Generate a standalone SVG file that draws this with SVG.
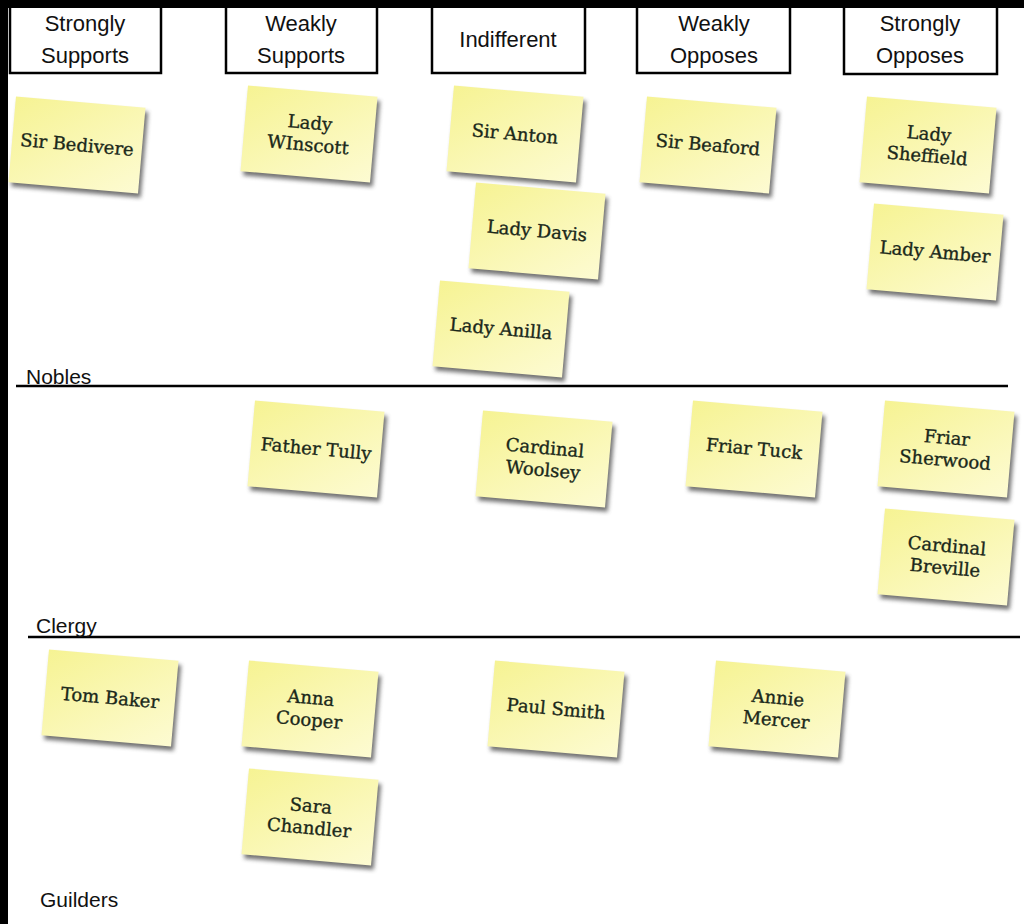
<svg xmlns="http://www.w3.org/2000/svg" width="1024" height="924" viewBox="0 0 1024 924">
<style>
.hdr{fill:#fff;stroke:#000;stroke-width:2.5}
.htxt{font-family:"Liberation Sans",Arial,sans-serif;font-size:22px;fill:#111;text-anchor:middle}
.lane{stroke:#000;stroke-width:2.5}
.ltxt{font-family:"Liberation Sans",Arial,sans-serif;font-size:21px;fill:#111}
.note{fill:url(#ng)}
.shadow{fill:#444;opacity:0.75;filter:url(#blur)}
.ntxt{font-family:"DejaVu Serif","Liberation Serif",serif;font-size:18px;fill:#1a281a;stroke:#1a281a;stroke-width:0.35;text-anchor:middle}
</style>
<defs>
<linearGradient id="ng" x1="0" y1="0" x2="1" y2="1">
<stop offset="0" stop-color="#f6f393"/>
<stop offset="1" stop-color="#fdfbd2"/>
</linearGradient>
<filter id="blur" x="-20%" y="-20%" width="140%" height="140%"><feGaussianBlur stdDeviation="2"/></filter>
<symbol id="stk" overflow="visible">
<rect class="shadow" x="-62" y="-39" width="130" height="86"/>
<rect class="note" x="-65" y="-43" width="130" height="86"/>
</symbol>
</defs>
<rect x="0" y="0" width="1024" height="924" fill="#fff"/>
<rect x="0" y="0" width="1024" height="8" fill="#000"/>
<rect x="0" y="0" width="8" height="924" fill="#000"/>

<g id="headers">
<g id="h-strongly-supports"><path class="hdr" d="M10,8 V73 H161 V8"/><text class="htxt" x="85" y="31">Strongly</text><text class="htxt" x="85" y="63">Supports</text></g>
<g id="h-weakly-supports"><path class="hdr" d="M226,8 V73 H377 V8"/><text class="htxt" x="301" y="31">Weakly</text><text class="htxt" x="301" y="63">Supports</text></g>
<g id="h-indifferent"><path class="hdr" d="M432,8 V73 H585 V8"/><text class="htxt" x="508" y="47">Indifferent</text></g>
<g id="h-weakly-opposes"><path class="hdr" d="M637,8 V73 H790 V8"/><text class="htxt" x="714" y="31">Weakly</text><text class="htxt" x="714" y="63">Opposes</text></g>
<g id="h-strongly-opposes"><path class="hdr" d="M844,8 V74 H997 V8"/><text class="htxt" x="920" y="31">Strongly</text><text class="htxt" x="920" y="63">Opposes</text></g>
</g>

<g id="lanes">
<g id="lane-nobles"><line class="lane" x1="16" y1="386" x2="1008" y2="386"/><text class="ltxt" x="26" y="384">Nobles</text></g>
<g id="lane-clergy"><line class="lane" x1="28" y1="637" x2="1020" y2="637"/><text class="ltxt" x="36" y="633">Clergy</text></g>
<g id="lane-guilders"><text class="ltxt" x="40" y="907">Guilders</text></g>
</g>

<g id="connectors"></g>

<g id="n-sir-bedivere" transform="translate(77,145) rotate(5)"><use href="#stk"/><text class="ntxt" y="6">Sir Bedivere</text></g>
<g id="n-lady-winscott" transform="translate(309,134) rotate(5)"><use href="#stk"/><text class="ntxt" y="-5">Lady</text><text class="ntxt" y="17">WInscott</text></g>
<g id="n-sir-anton" transform="translate(515,134) rotate(5)"><use href="#stk"/><text class="ntxt" y="6">Sir Anton</text></g>
<g id="n-lady-davis" transform="translate(537,231) rotate(5)"><use href="#stk"/><text class="ntxt" y="6">Lady Davis</text></g>
<g id="n-lady-anilla" transform="translate(501,329) rotate(5)"><use href="#stk"/><text class="ntxt" y="6">Lady Anilla</text></g>
<g id="n-sir-beaford" transform="translate(708,145) rotate(5)"><use href="#stk"/><text class="ntxt" y="6">Sir Beaford</text></g>
<g id="n-lady-sheffield" transform="translate(928,145) rotate(5)"><use href="#stk"/><text class="ntxt" y="-5">Lady</text><text class="ntxt" y="17">Sheffield</text></g>
<g id="n-lady-amber" transform="translate(935,252) rotate(5)"><use href="#stk"/><text class="ntxt" y="6">Lady Amber</text></g>

<g id="n-father-tully" transform="translate(316,449) rotate(5)"><use href="#stk"/><text class="ntxt" y="6">Father Tully</text></g>
<g id="n-cardinal-woolsey" transform="translate(544,459) rotate(5)"><use href="#stk"/><text class="ntxt" y="-5">Cardinal</text><text class="ntxt" y="17">Woolsey</text></g>
<g id="n-friar-tuck" transform="translate(754,449) rotate(5)"><use href="#stk"/><text class="ntxt" y="6">Friar Tuck</text></g>
<g id="n-friar-sherwood" transform="translate(946,449) rotate(5)"><use href="#stk"/><text class="ntxt" y="-5">Friar</text><text class="ntxt" y="17">Sherwood</text></g>
<g id="n-cardinal-breville" transform="translate(946,557) rotate(5)"><use href="#stk"/><text class="ntxt" y="-5">Cardinal</text><text class="ntxt" y="17">Breville</text></g>

<g id="n-tom-baker" transform="translate(110,698) rotate(5)"><use href="#stk"/><text class="ntxt" y="6">Tom Baker</text></g>
<g id="n-anna-cooper" transform="translate(310,709) rotate(5)"><use href="#stk"/><text class="ntxt" y="-5">Anna</text><text class="ntxt" y="17">Cooper</text></g>
<g id="n-sara-chandler" transform="translate(310,817) rotate(5)"><use href="#stk"/><text class="ntxt" y="-5">Sara</text><text class="ntxt" y="17">Chandler</text></g>
<g id="n-paul-smith" transform="translate(556,709) rotate(5)"><use href="#stk"/><text class="ntxt" y="6">Paul Smith</text></g>
<g id="n-annie-mercer" transform="translate(777,709) rotate(5)"><use href="#stk"/><text class="ntxt" y="-5">Annie</text><text class="ntxt" y="17">Mercer</text></g>
</svg>
